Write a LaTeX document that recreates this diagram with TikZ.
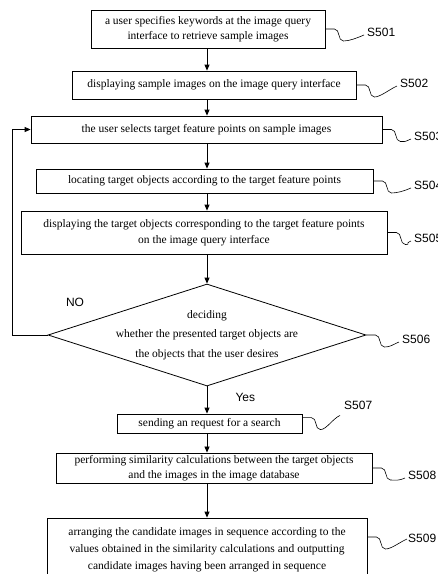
\documentclass[tikz,border=0pt]{standalone}
\usepackage{fontspec}
\setmainfont{Liberation Serif}
\newfontfamily\labelfont{Liberation Sans}
\usetikzlibrary{calc,positioning,shapes.geometric,arrows.meta}

\begin{document}
\begin{tikzpicture}[x=1pt,y=1pt]

\tikzset{stepbox/.style={draw,line width=0.8pt,align=center,inner sep=2pt,font=\fontsize{11.5}{15.5}\selectfont},
decision/.style={draw,line width=0.8pt,shape=diamond,inner sep=0pt,minimum width=318pt,minimum height=102pt},
steplabel/.style={font=\labelfont\fontsize{12}{13}\selectfont,inner sep=0pt,anchor=west},
flow/.style={line width=0.8pt,-{Triangle[length=6pt,width=5pt]}},
leader/.style={line width=0.6pt,to path={-- ($(\tikztostart)+(9,0)$) .. controls ($(\tikztostart)+(15,0)$) and ($(\tikztostart)+(12,-12)$) .. ($(\tikztostart)+(18,-12)$) .. controls ($(\tikztostart)+(24,-12)$) and ($(\tikztotarget)+(-7,-3)$) .. (\tikztotarget)}}}

\useasboundingbox (0,0) rectangle (438,-574);

% step boxes
\node (s501) [stepbox,minimum width=234pt,minimum height=38pt] at (208,-29) {a user specifies keywords at the image query\\interface to retrieve sample images};
\node (s502) [stepbox,minimum width=284pt,minimum height=28pt] at (214,-85) {displaying sample images on the image query interface};
\node (s503) [stepbox,minimum width=351pt,minimum height=27pt] at (206.5,-129.5) {the user selects target feature points on sample images};
\node (s504) [stepbox,minimum width=337pt,minimum height=24pt] at (204.5,-181) {locating target objects according to the target feature points};
\node (s505) [stepbox,minimum width=366pt,minimum height=43pt] at (204,-232.5) {displaying the target objects corresponding to the target feature points\\on the image query interface};
\node (dec) [decision] at (207,-335) {};
\node (dectext) [align=center,font=\fontsize{11.5}{19.5}\selectfont] at (dec) {deciding\\whether the presented target objects are\\the objects that the user desires};
\node (s507) [stepbox,minimum width=185pt,minimum height=19pt] at (209.5,-423.5) {sending an request for a search};
\node (s508) [stepbox,minimum width=316pt,minimum height=30pt] at (214,-468) {performing similarity calculations between the target objects\\and the images in the image database};
\node (s509) [stepbox,minimum width=320pt,minimum height=64pt,font=\fontsize{11.5}{17}\selectfont] at (207,-550) {arranging the candidate images in sequence according to the\\values obtained in the similarity calculations and outputting\\candidate images having been arranged in sequence};

% step numbers
\node (l501) [steplabel] at (367,-32) {S501};
\node (l502) [steplabel] at (400,-83) {S502};
\node (l503) [steplabel] at (414,-136) {S503};
\node (l504) [steplabel] at (414,-185) {S504};
\node (l505) [steplabel] at (414,-238) {S505};
\node (l506) [steplabel] at (402,-339) {S506};
\node (l507) [steplabel] at (344,-405) {S507};
\node (l508) [steplabel] at (408,-475) {S508};
\node (l509) [steplabel] at (408,-538) {S509};

% branch labels
\node (no) [font=\labelfont\fontsize{12}{13}\selectfont] at (75,-302) {NO};
\node (yes) [font=\labelfont\fontsize{12}{13}\selectfont,anchor=west] at (232,-397) {Yes};

% main flow
\coordinate (spine) at (207,0);
\draw[flow] (spine |- s501.south) -- (spine |- s502.north);
\draw[flow] (spine |- s502.south) -- (spine |- s503.north);
\draw[flow] (spine |- s503.south) -- (spine |- s504.north);
\draw[flow] (spine |- s504.south) -- (spine |- s505.north);
\draw[flow] (spine |- s505.south) -- (dec.north);
\draw[flow] (dec.south) -- (spine |- s507.north);
\draw[flow] (spine |- s507.south) -- (spine |- s508.north);
\draw[flow] (spine |- s508.south) -- (spine |- s509.north);

% back to S503
\coordinate (loop) at (12,0);
\draw[flow] (dec.west) -- (dec.west -| loop) |- (s503.west);

% leaders to step numbers
\foreach \b/\l in {s501/l501, s502/l502, s503/l503, s504/l504, s505/l505, dec/l506, s508/l508}
  \draw[leader] (\b.east) to ($(\l.west)+(-3,-3)$);
\draw[leader] ([yshift=-4pt]s507.north east) to ($(l507.south west)+(-4,-6)$);
\draw[leader] ([yshift=13pt]s509.east) to ($(l509.west)+(-1,-1)$);

\end{tikzpicture}
\end{document}
